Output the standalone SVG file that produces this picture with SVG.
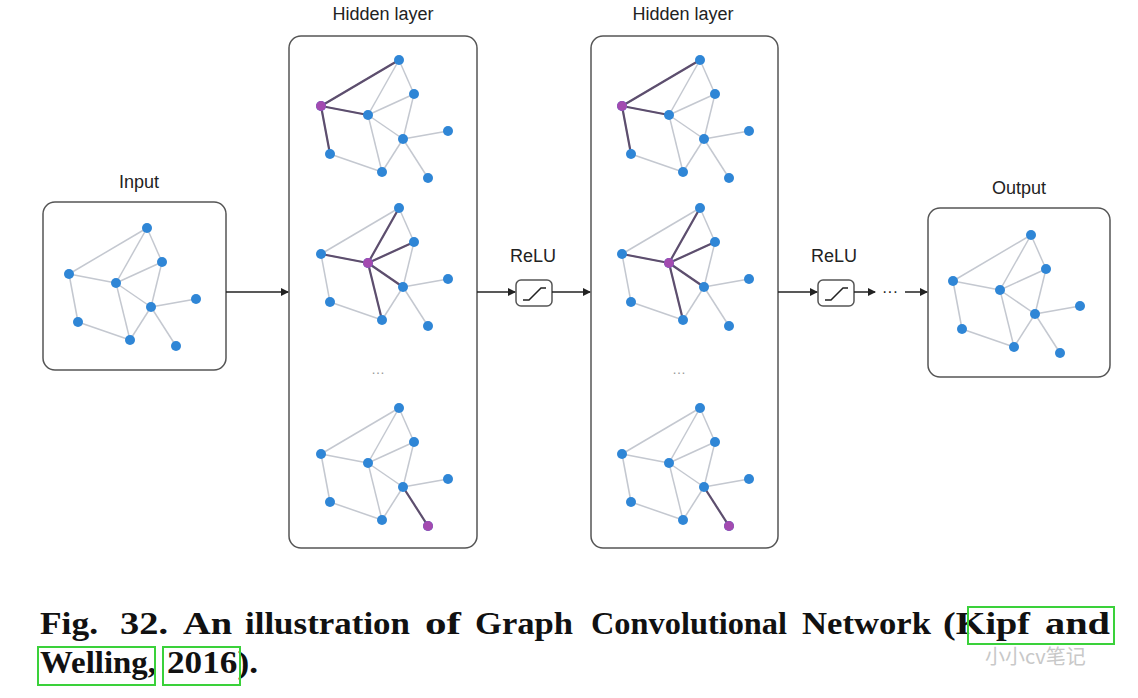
<svg xmlns="http://www.w3.org/2000/svg" xmlns:xlink="http://www.w3.org/1999/xlink" width="1138" height="698" viewBox="0 0 1138 698">
<style>
.box{fill:#fff;stroke:#555;stroke-width:1.5}
.lbl{font-family:"Liberation Sans",Arial,sans-serif;font-size:18px;fill:#222;text-anchor:middle}
.e{stroke:#c4c8d0;stroke-width:1.5}
.h{stroke:#5d4e6e;stroke-width:2.2}
.n{fill:#2f86d6}
.p{fill:#a34bb0}
.arr{stroke:#222;stroke-width:1.5;fill:none}
.cap{font-family:"Liberation Serif","Times New Roman",serif;font-weight:bold;font-size:32px;fill:#111}
.g{fill:none;stroke:#3ad13a;stroke-width:2}
</style>
<defs>
<marker id="ah" markerWidth="8" markerHeight="8" refX="7" refY="4" orient="auto" markerUnits="userSpaceOnUse"><path d="M0,0 L8,4 L0,8 z" fill="#222"/></marker>
<g id="graph">
<g class="e">
<line x1="147" y1="228" x2="69" y2="274"/><line x1="147" y1="228" x2="116" y2="283"/><line x1="147" y1="228" x2="162" y2="262"/>
<line x1="162" y1="262" x2="116" y2="283"/><line x1="162" y1="262" x2="151" y2="307"/><line x1="69" y1="274" x2="116" y2="283"/>
<line x1="69" y1="274" x2="78" y2="322"/><line x1="116" y1="283" x2="151" y2="307"/><line x1="116" y1="283" x2="130" y2="340"/>
<line x1="151" y1="307" x2="130" y2="340"/><line x1="151" y1="307" x2="196" y2="299"/><line x1="151" y1="307" x2="176" y2="346"/>
<line x1="78" y1="322" x2="130" y2="340"/>
</g>
</g>
<g id="nodes" class="n">
<circle cx="147" cy="228" r="5"/><circle cx="162" cy="262" r="5"/><circle cx="69" cy="274" r="5"/><circle cx="116" cy="283" r="5"/>
<circle cx="151" cy="307" r="5"/><circle cx="196" cy="299" r="5"/><circle cx="78" cy="322" r="5"/><circle cx="130" cy="340" r="5"/><circle cx="176" cy="346" r="5"/>
</g>
</defs>
<rect width="1138" height="698" fill="#fff"/>

<g id="input">
<rect class="box" x="43" y="202" width="183" height="168" rx="12"/>
<text class="lbl" x="139" y="188">Input</text>
<use xlink:href="#graph"/><use xlink:href="#nodes"/>
</g>

<g id="hidden1">
<rect class="box" x="289" y="36" width="188" height="512" rx="12"/>
<text class="lbl" x="383" y="20">Hidden layer</text>
<g transform="translate(252,-168)">
<use xlink:href="#graph"/>
<g class="h"><line x1="69" y1="274" x2="147" y2="228"/><line x1="69" y1="274" x2="116" y2="283"/><line x1="69" y1="274" x2="78" y2="322"/></g>
<use xlink:href="#nodes"/><circle class="p" cx="69" cy="274" r="5"/>
</g>
<g transform="translate(252,-20)">
<use xlink:href="#graph"/>
<g class="h"><line x1="116" y1="283" x2="147" y2="228"/><line x1="116" y1="283" x2="162" y2="262"/><line x1="116" y1="283" x2="69" y2="274"/><line x1="116" y1="283" x2="151" y2="307"/><line x1="116" y1="283" x2="130" y2="340"/></g>
<use xlink:href="#nodes"/><circle class="p" cx="116" cy="283" r="5"/>
</g>
<text class="lbl" x="378" y="374" style="fill:#999;font-size:14px">…</text>
<g transform="translate(252,180)">
<use xlink:href="#graph"/>
<g class="h"><line x1="151" y1="307" x2="176" y2="346"/></g>
<use xlink:href="#nodes"/><circle class="p" cx="176" cy="346" r="5"/>
</g>
</g>

<g id="hidden2">
<rect class="box" x="591" y="36" width="187" height="512" rx="12"/>
<text class="lbl" x="683" y="20">Hidden layer</text>
<g transform="translate(553,-168)">
<use xlink:href="#graph"/>
<g class="h"><line x1="69" y1="274" x2="147" y2="228"/><line x1="69" y1="274" x2="116" y2="283"/><line x1="69" y1="274" x2="78" y2="322"/></g>
<use xlink:href="#nodes"/><circle class="p" cx="69" cy="274" r="5"/>
</g>
<g transform="translate(553,-20)">
<use xlink:href="#graph"/>
<g class="h"><line x1="116" y1="283" x2="147" y2="228"/><line x1="116" y1="283" x2="162" y2="262"/><line x1="116" y1="283" x2="69" y2="274"/><line x1="116" y1="283" x2="151" y2="307"/><line x1="116" y1="283" x2="130" y2="340"/></g>
<use xlink:href="#nodes"/><circle class="p" cx="116" cy="283" r="5"/>
</g>
<text class="lbl" x="679" y="374" style="fill:#999;font-size:14px">…</text>
<g transform="translate(553,180)">
<use xlink:href="#graph"/>
<g class="h"><line x1="151" y1="307" x2="176" y2="346"/></g>
<use xlink:href="#nodes"/><circle class="p" cx="176" cy="346" r="5"/>
</g>
</g>

<g id="output">
<rect class="box" x="928" y="208" width="182" height="169" rx="12"/>
<text class="lbl" x="1019" y="194">Output</text>
<g transform="translate(884,7)"><use xlink:href="#graph"/><use xlink:href="#nodes"/></g>
</g>

<g id="relu1">
<text class="lbl" x="533" y="262">ReLU</text>
<rect class="box" x="516" y="280" width="36" height="26" rx="5"/>
<path d="M523,300 H529 L541,288 H546" fill="none" stroke="#222" stroke-width="1.5"/>
</g>
<g id="relu2">
<text class="lbl" x="834" y="262">ReLU</text>
<rect class="box" x="818" y="280" width="36" height="26" rx="5"/>
<path d="M825,300 H831 L843,288 H848" fill="none" stroke="#222" stroke-width="1.5"/>
</g>

<g id="connectors">
<line class="arr" x1="226" y1="292" x2="288" y2="292" marker-end="url(#ah)"/>
<line class="arr" x1="477" y1="292" x2="515" y2="292" marker-end="url(#ah)"/>
<line class="arr" x1="552" y1="292" x2="590" y2="292" marker-end="url(#ah)"/>
<line class="arr" x1="778" y1="292" x2="817" y2="292" marker-end="url(#ah)"/>
<line class="arr" x1="854" y1="292" x2="875" y2="292" marker-end="url(#ah)"/>
<text x="890" y="297" class="lbl" style="font-size:16px">···</text>
<line class="arr" x1="905" y1="292" x2="927" y2="292" marker-end="url(#ah)"/>
</g>

<g id="caption" class="cap">
<text x="40" y="634" textLength="58" lengthAdjust="spacingAndGlyphs">Fig.</text>
<text x="120" y="634" textLength="48" lengthAdjust="spacingAndGlyphs">32.</text>
<text x="183" y="634" textLength="49" lengthAdjust="spacingAndGlyphs">An</text>
<text x="245" y="634" textLength="165" lengthAdjust="spacingAndGlyphs">illustration</text>
<text x="425" y="634" textLength="36" lengthAdjust="spacingAndGlyphs">of</text>
<text x="475" y="634" textLength="98" lengthAdjust="spacingAndGlyphs">Graph</text>
<text x="591" y="634" textLength="196" lengthAdjust="spacingAndGlyphs">Convolutional</text>
<text x="802" y="634" textLength="129" lengthAdjust="spacingAndGlyphs">Network</text>
<text x="943" y="634" textLength="87" lengthAdjust="spacingAndGlyphs">(Kipf</text>
<text x="1045" y="634" textLength="65" lengthAdjust="spacingAndGlyphs">and</text>
<text x="40" y="673" textLength="116" lengthAdjust="spacingAndGlyphs">Welling,</text>
<text x="167" y="673" textLength="91" lengthAdjust="spacingAndGlyphs">2016).</text>
<rect class="g" x="968" y="607" width="146" height="37"/>
<rect class="g" x="38" y="647" width="117" height="38"/>
<rect class="g" x="163" y="647" width="77" height="38"/>
</g>
<text x="985" y="664" style="font-family:'Noto Sans CJK SC',sans-serif;font-size:20px;fill:#c8c8c8">小小cv笔记</text>
</svg>
